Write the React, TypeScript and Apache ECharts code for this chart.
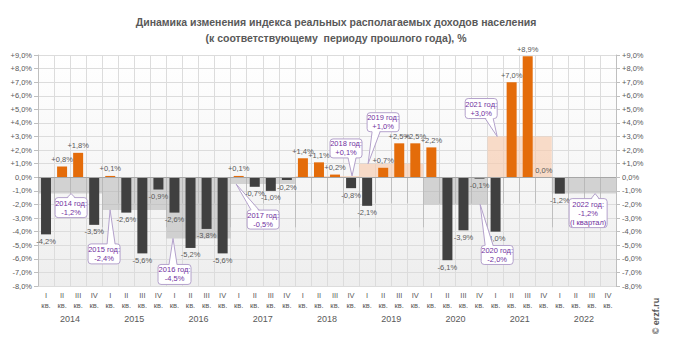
import React, { useEffect, useRef } from 'react';
import * as echarts from 'echarts';

const years = ['2014', '2015', '2016', '2017', '2018', '2019', '2020', '2021', '2022'];
const quarterNames = ['I', 'II', 'III', 'IV'];
const quarterCats = years.flatMap((y) => quarterNames.map((q) => `${y}-${q}`));

// quarterly change, % (2014 I ... 2022 IV)
const quarterly: (number | null)[] = [
  -4.2, 0.8, 1.8, -3.5,
  0.1, -2.6, -5.6, -0.9,
  -2.6, -5.2, -3.8, -5.6,
  0.1, -0.7, -1.0, -0.2,
  1.4, 1.1, 0.2, -0.8,
  -2.1, 0.7, 2.5, 2.5,
  2.2, -6.1, -3.9, -0.1,
  -4.0, 7.0, 8.9, 0.0,
  -1.2, null, null, null,
];

// annual change, %
const annual = [-1.2, -2.4, -4.5, -0.5, 0.1, 1.0, -2.0, 3.0, -1.2];

const calloutTexts = [
  '2014 год:\n-1,2%',
  '2015 год:\n-2,4%',
  '2016 год:\n-4,5%',
  '2017 год:\n-0,5%',
  '2018 год:\n+0,1%',
  '2019 год:\n+1,0%',
  '2020 год:\n-2,0%',
  '2021 год:\n+3,0%',
  '2022 год:\n-1,2%\n(I квартал)',
];

// callout geometry: tip at (category position p, value v); box offset from tip, size, wedge base x within box
const calloutLayout = [
  { p: 2.06, v: -1.2, dx: -16, dy: 4, w: 32, h: 20, bx: 16 },
  { p: 4.49, v: -2.4, dx: -22, dy: 34, w: 32, h: 20, bx: 23 },
  { p: 8.41, v: -4.5, dx: -15, dy: 26, w: 33, h: 20, bx: 15 },
  { p: 12.34, v: -0.5, dx: 11, dy: 26, w: 32, h: 19, bx: 8 },
  { p: 19.56, v: 0.1, dx: -22, dy: -37, w: 32, h: 19, bx: 22 },
  { p: 20.56, v: 1.0, dx: -1, dy: -51, w: 32, h: 19, bx: 9 },
  { p: 27.54, v: -2.0, dx: 1, dy: 41, w: 32, h: 19, bx: 8 },
  { p: 28.6, v: 3.0, dx: -32, dy: -38, w: 32, h: 20, bx: 24 },
  { p: 34.7, v: -1.2, dx: -26, dy: 5, w: 38, h: 29, bx: 26 },
];

const FONT = '"Liberation Sans", Arial, sans-serif';
const ORANGE = '#e46c0a';
const DARK = '#404040';
const TXT = '#595959';

const fmt = (v: number) => (v > 0 ? '+' : '') + v.toFixed(1).replace('.', ',') + '%';

export default function App() {
  const ref = useRef<HTMLDivElement>(null);
  useEffect(() => {
    document.body.style.margin = '0';
    const chart = echarts.init(ref.current!, undefined, { renderer: 'svg' });
    const yAxisBase = {
      type: 'value' as const,
      min: -8,
      max: 9,
      interval: 1,
      axisLine: { show: true, lineStyle: { color: '#bfbfbf' } },
      axisTick: { show: true, length: 4, lineStyle: { color: '#bfbfbf' } },
      axisLabel: { formatter: (v: number) => fmt(v), fontSize: 7.5, color: TXT, fontFamily: FONT, margin: 6 },
    };
    chart.setOption({
      animation: false,
      textStyle: { fontFamily: FONT },
      title: {
        text: 'Динамика изменения индекса реальных располагаемых доходов населения\n(к соответствующему  периоду прошлого года), %',
        left: 331,
        textAlign: 'center',
        top: 9,
        textStyle: { fontSize: 10.5, fontWeight: 'bold', color: TXT, lineHeight: 16, fontFamily: FONT },
      },
      grid: {
        left: 38,
        right: 57,
        top: 55,
        bottom: 74,
        show: true,
        borderWidth: 0,
        backgroundColor: new echarts.graphic.LinearGradient(0, 0, 0, 1, [
          { offset: 0, color: '#ffffff' },
          { offset: 1, color: '#eeeeee' },
        ]),
      },
      xAxis: [
        {
          type: 'category',
          data: quarterCats,
          position: 'bottom',
          axisLine: { show: true, lineStyle: { color: '#d0d0d0' } },
          axisTick: { show: true, length: 26, interval: 0, lineStyle: { color: '#bfbfbf' } },
          splitLine: { show: true, interval: 0, lineStyle: { color: '#dcdcdc' } },
          axisLabel: {
            interval: 0,
            formatter: (v: string) => v.split('-')[1] + '\nкв.',
            fontSize: 7.5,
            lineHeight: 10,
            color: () => TXT,
            margin: 4,
            fontFamily: FONT,
          },
        },
        {
          type: 'category',
          data: years,
          position: 'bottom',
          axisLine: { show: false },
          axisTick: { show: true, length: 50, interval: 0, lineStyle: { color: '#bfbfbf' } },
          splitLine: { show: false },
          axisLabel: { fontSize: 9, color: TXT, margin: 28, fontFamily: FONT },
        },
      ],
      yAxis: [
        { ...yAxisBase, position: 'left', splitLine: { show: true, lineStyle: { color: '#dcdcdc' } } },
        { ...yAxisBase, position: 'right', splitLine: { show: false } },
      ],
      series: [
        {
          type: 'bar',
          xAxisIndex: 1,
          yAxisIndex: 0,
          barWidth: '100%',
          silent: true,
          z: 1,
          data: annual.map((v) => ({
            value: v,
            itemStyle: { color: v >= 0 ? 'rgba(248,203,173,0.65)' : 'rgba(180,180,180,0.55)' },
          })),
        },
        {
          type: 'bar',
          xAxisIndex: 0,
          yAxisIndex: 0,
          barWidth: 10,
          z: 3,
          data: quarterly.map((v) =>
            v === null
              ? { value: null }
              : {
                  value: v,
                  itemStyle: { color: v >= 0 ? ORANGE : DARK },
                  label: { position: v >= 0 ? 'top' : 'bottom' },
                }
          ),
          label: {
            show: true,
            formatter: (p: any) => (p.value === null || p.value === undefined ? '' : fmt(p.value)),
            fontSize: 7.5,
            color: TXT,
            distance: 3,
            fontFamily: FONT,
          },
          markLine: {
            silent: true,
            symbol: 'none',
            label: { show: false },
            lineStyle: { color: '#a6a6a6', width: 1, type: 'solid' },
            data: [{ yAxis: 0 }],
          },
        },
      ],
    });

    const c0 = chart.convertToPixel({ xAxisIndex: 0 }, 0) as number;
    const c1 = chart.convertToPixel({ xAxisIndex: 0 }, 1) as number;
    const catW = c1 - c0;
    const left0 = c0 - catW / 2;
    const graphics: any[] = [];
    calloutLayout.forEach((c, i) => {
      const tx = left0 + c.p * catW;
      const ty = chart.convertToPixel({ yAxisIndex: 0 }, c.v) as number;
      const bxL = tx + c.dx;
      const byT = ty + c.dy;
      const below = c.dy > 0;
      const baseY = below ? byT : byT + c.h;
      const inner = below ? baseY + 1.5 : baseY - 1.5;
      const bcx = bxL + c.bx;
      graphics.push({
        type: 'rect',
        shape: { x: bxL, y: byT, width: c.w, height: c.h, r: 3 },
        style: { fill: '#ffffff', stroke: '#b4a2cc', lineWidth: 1 },
        z: 10,
      });
      graphics.push({
        type: 'polygon',
        shape: { points: [[bcx - 4, inner], [tx, ty], [bcx + 4, inner]] },
        style: { fill: '#ffffff' },
        z: 11,
      });
      graphics.push({
        type: 'polyline',
        shape: { points: [[bcx - 4, baseY], [tx, ty], [bcx + 4, baseY]] },
        style: { stroke: '#b4a2cc', lineWidth: 1, fill: null },
        z: 12,
      });
      graphics.push({
        type: 'text',
        x: bxL + c.w / 2,
        y: byT + c.h / 2,
        style: {
          text: calloutTexts[i],
          fill: '#7030a0',
          fontSize: 7.5,
          lineHeight: 9,
          align: 'center',
          verticalAlign: 'middle',
          fontFamily: FONT,
        },
        z: 13,
      });
    });
    graphics.push({
      type: 'text',
      x: 656,
      y: 316,
      rotation: Math.PI / 2,
      style: {
        text: '© erzf.ru',
        fill: TXT,
        fontSize: 9,
        fontWeight: 'bold',
        align: 'center',
        verticalAlign: 'middle',
        fontFamily: FONT,
      },
    });
    chart.setOption({ graphic: graphics });

    return () => chart.dispose();
  }, []);
  return <div ref={ref} style={{ width: 673, height: 360 }} />;
}
